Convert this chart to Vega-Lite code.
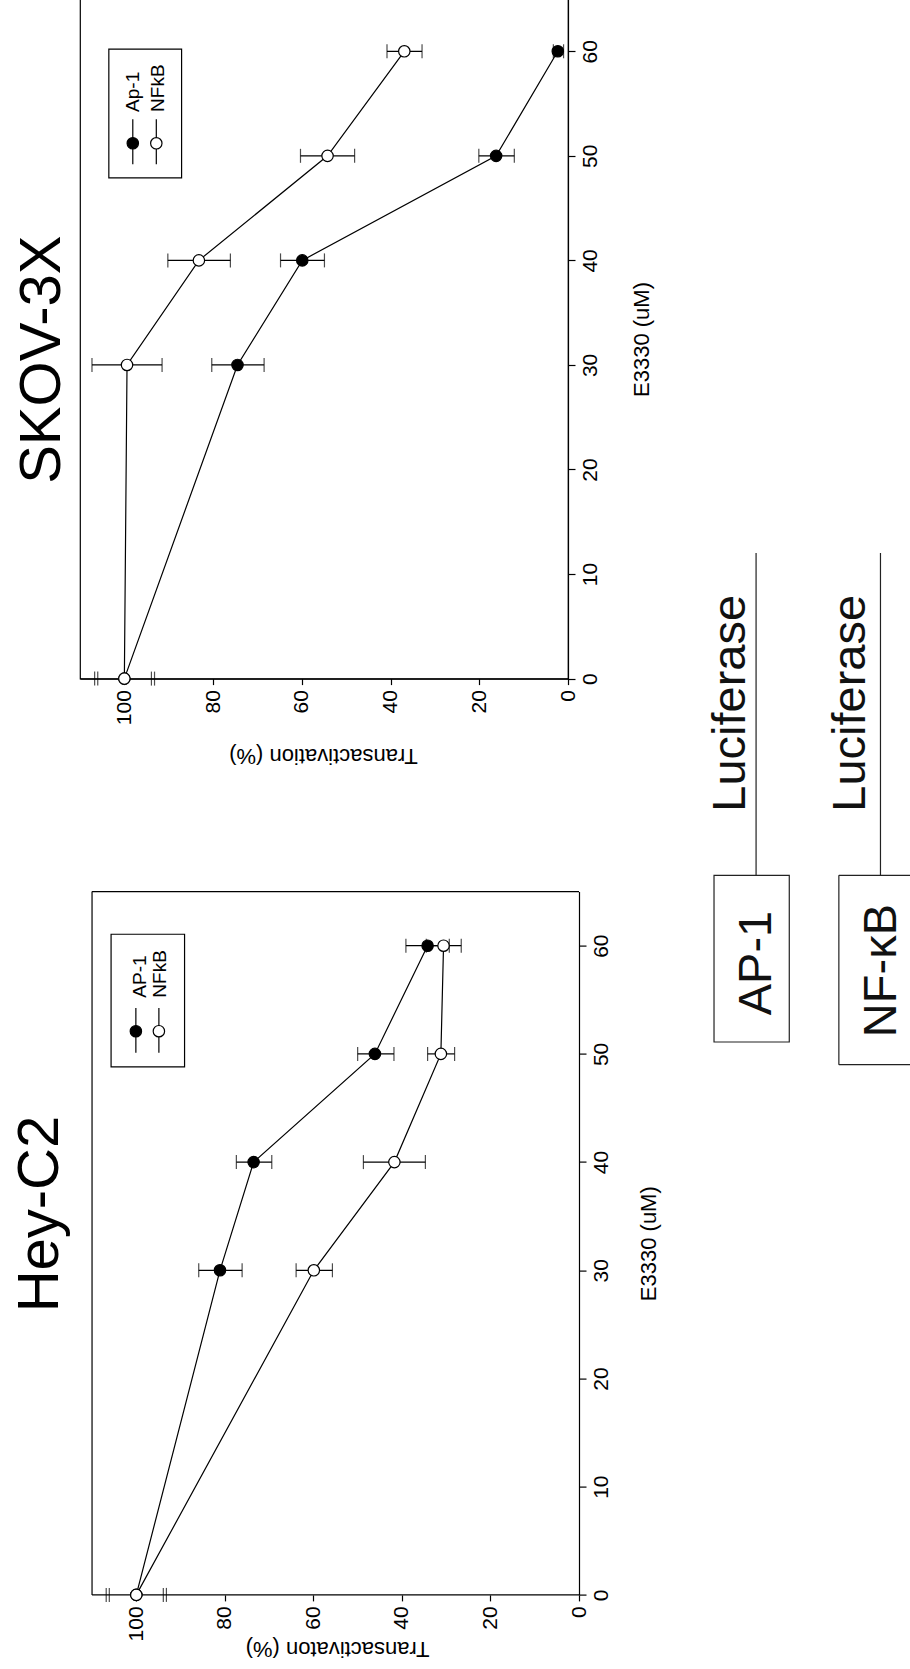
{
  "$schema": "https://vega.github.io/schema/vega-lite/v6.json",
  "background": "white",
  "padding": {"left": 12, "top": -2, "right": 0, "bottom": 10},
  "bounds": "flush",
  "spacing": 212.6,
  "config": {"view": {"stroke": null}, "font": "Liberation Sans", "axis": {"grid": false}},
  "datasets": {
    "skov": [
      {"series": "AP-1", "conc": 0, "val": 100},
      {"series": "AP-1", "conc": 30, "val": 74.5, "lo": 68.5, "hi": 80.3},
      {"series": "AP-1", "conc": 40, "val": 59.9, "lo": 54.9, "hi": 64.8},
      {"series": "AP-1", "conc": 50, "val": 16.2, "lo": 12.1, "hi": 20.1},
      {"series": "AP-1", "conc": 60, "val": 2.3, "lo": 1.0, "hi": 3.3},
      {"series": "NFkB", "conc": 0, "val": 100},
      {"series": "NFkB", "conc": 30, "val": 99.4, "lo": 91.5, "hi": 107.3},
      {"series": "NFkB", "conc": 40, "val": 83.2, "lo": 76.1, "hi": 90.2},
      {"series": "NFkB", "conc": 50, "val": 54.2, "lo": 48.1, "hi": 60.3},
      {"series": "NFkB", "conc": 60, "val": 36.9, "lo": 32.9, "hi": 40.8}
    ],
    "hey": [
      {"series": "AP-1", "conc": 0, "val": 100},
      {"series": "AP-1", "conc": 30, "val": 81.1, "lo": 76.1, "hi": 85.9},
      {"series": "AP-1", "conc": 40, "val": 73.5, "lo": 69.4, "hi": 77.4},
      {"series": "AP-1", "conc": 50, "val": 46.1, "lo": 41.8, "hi": 50.0},
      {"series": "AP-1", "conc": 60, "val": 34.2, "lo": 29.3, "hi": 39.1},
      {"series": "NFkB", "conc": 0, "val": 100},
      {"series": "NFkB", "conc": 30, "val": 59.9, "lo": 55.7, "hi": 63.9},
      {"series": "NFkB", "conc": 40, "val": 41.7, "lo": 34.7, "hi": 48.7},
      {"series": "NFkB", "conc": 50, "val": 31.2, "lo": 28.1, "hi": 34.2},
      {"series": "NFkB", "conc": 60, "val": 30.6, "lo": 26.6, "hi": 34.5}
    ],
    "skovTitle": [{"label": "SKOV-3X", "tx": 114.5, "ty": 30.5}],
    "heyTitle": [{"label": "Hey-C2", "tx": 117.6, "ty": 35.2}],
    "skovLegendBox": [{"x": 103.5, "x2": 87.1, "y": 60.2, "y2": 47.9}],
    "skovLegend": [
      {"series": "AP-1", "label": "Ap-1", "lx": 98.1, "tx": 96.8, "cy": 51.2, "ly1": 53.5, "ly2": 49.2, "ty": 54.2},
      {"series": "NFkB", "label": "NFkB", "lx": 92.8, "tx": 91.1, "cy": 51.2, "ly1": 53.5, "ly2": 49.2, "ty": 54.2}
    ],
    "heyLegendBox": [{"x": 105.7, "x2": 89.1, "y": 61.06, "y2": 48.8}],
    "heyLegend": [
      {"series": "AP-1", "label": "AP-1", "lx": 100.1, "tx": 97.9, "cy": 52.1, "ly1": 54.25, "ly2": 50.1, "ty": 55.2},
      {"series": "NFkB", "label": "NFkB", "lx": 94.9, "tx": 93.2, "cy": 52.1, "ly1": 54.25, "ly2": 50.1, "ty": 55.2}
    ],
    "skovBreaks": [{"bx": 106.0, "by": 0}, {"bx": 106.7, "by": 0}, {"bx": 93.2, "by": 0}, {"bx": 93.9, "by": 0}],
    "heyBreaks": [{"bx": 106.1, "by": 0}, {"bx": 106.8, "by": 0}, {"bx": 93.2, "by": 0}, {"bx": 93.9, "by": 0}],
    "heyFrame": [
      {"x1": 110, "x2": 110, "y1": 0, "y2": 65},
      {"x1": 0, "x2": 110, "y1": 65, "y2": 65},
      {"x1": 0, "x2": 110, "y1": 0, "y2": 0}
    ],
    "diagramLines": [
      {"x1": -40.0, "x2": -40.0, "y1": 96.3, "y2": 66.5},
      {"x1": -68.1, "x2": -68.1, "y1": 96.3, "y2": 66.5},
      {"x1": -58.7, "x2": -74.8, "y1": 66.5, "y2": 66.5},
      {"x1": -58.7, "x2": -74.8, "y1": 49.0, "y2": 49.0},
      {"x1": -58.7, "x2": -58.7, "y1": 66.5, "y2": 49.0}
    ],
    "diagramBox": [{"x1": -30.5, "x2": -47.5, "y1": 66.5, "y2": 51.1}],
    "diagramText": [
      {"label": "Luciferase", "tx": -37.4, "ty": 82.4},
      {"label": "Luciferase", "tx": -64.5, "ty": 82.4},
      {"label": "AP-1", "tx": -43.3, "ty": 58.4},
      {"label": "NF-κB", "tx": -71.5, "ty": 57.7}
    ]
  },
  "vconcat": [
    {
      "width": 488,
      "height": 679.6,
      "view": {"stroke": "black", "strokeWidth": 1.2},
      "layer": [
        {
          "data": {"name": "skov"},
          "mark": {"type": "line", "color": "black", "strokeWidth": 1.2},
          "encoding": {
            "x": {"field": "val", "type": "quantitative", "scale": {"domain": [0, 110], "reverse": true, "nice": false, "zero": false},
              "axis": {"title": "Transactivation (%)", "values": [0, 20, 40, 60, 80, 100], "grid": false, "domain": true, "domainColor": "black", "domainWidth": 1.2, "tickColor": "black", "tickWidth": 1.2, "tickSize": 6, "labelAngle": 270, "labelAlign": "right", "labelBaseline": "middle", "labelPadding": 5, "labelFont": "Liberation Sans Narrow, Arial Narrow, Liberation Sans", "labelFontSize": 21, "labelColor": "black", "labelOverlap": false, "labelFlush": false, "titleFont": "Liberation Sans", "titleFontSize": 22, "titleFontWeight": "normal", "titleColor": "black", "titleAngle": 180, "titleAlign": "center", "titleBaseline": "alphabetic", "titleX": 243, "titleY": 70}},
            "y": {"field": "conc", "type": "quantitative", "scale": {"domain": [0, 65], "nice": false, "zero": false},
              "axis": {"orient": "right", "title": "E3330 (uM)", "values": [0, 10, 20, 30, 40, 50, 60], "grid": false, "domain": true, "domainColor": "black", "domainWidth": 1.2, "tickColor": "black", "tickWidth": 1.2, "tickSize": 7, "labelAngle": 270, "labelAlign": "center", "labelBaseline": "top", "labelPadding": 4, "labelFont": "Liberation Sans Narrow, Arial Narrow, Liberation Sans", "labelFontSize": 21, "labelColor": "black", "labelOverlap": false, "labelFlush": false, "titleFont": "Liberation Sans", "titleFontSize": 22, "titleFontWeight": "normal", "titleColor": "black", "titleAngle": 270, "titleAlign": "center", "titleBaseline": "alphabetic", "titleX": 80, "titleY": 340}},
            "detail": {"field": "series"},
            "order": {"field": "conc"}
          }
        },
        {
          "data": {"name": "skov"},
          "transform": [{"filter": "isValid(datum.lo)"}],
          "mark": {"type": "rule", "color": "black", "strokeWidth": 1.2},
          "encoding": {
            "x": {"field": "lo", "type": "quantitative", "scale": {"domain": [0, 110], "reverse": true, "nice": false, "zero": false}},
            "x2": {"field": "hi"},
            "y": {"field": "conc", "type": "quantitative", "scale": {"domain": [0, 65], "nice": false, "zero": false}}
          }
        },
        {
          "data": {"name": "skov"},
          "transform": [{"filter": "isValid(datum.lo)"}],
          "mark": {"type": "tick", "orient": "vertical", "color": "black", "size": 14, "thickness": 1.2},
          "encoding": {
            "x": {"field": "lo", "type": "quantitative", "scale": {"domain": [0, 110], "reverse": true, "nice": false, "zero": false}},
            "y": {"field": "conc", "type": "quantitative", "scale": {"domain": [0, 65], "nice": false, "zero": false}}
          }
        },
        {
          "data": {"name": "skov"},
          "transform": [{"filter": "isValid(datum.hi)"}],
          "mark": {"type": "tick", "orient": "vertical", "color": "black", "size": 14, "thickness": 1.2},
          "encoding": {
            "x": {"field": "hi", "type": "quantitative", "scale": {"domain": [0, 110], "reverse": true, "nice": false, "zero": false}},
            "y": {"field": "conc", "type": "quantitative", "scale": {"domain": [0, 65], "nice": false, "zero": false}}
          }
        },
        {
          "data": {"name": "skov"},
          "mark": {"type": "point", "shape": "circle", "filled": true, "stroke": "black", "strokeWidth": 1.2, "size": 130, "opacity": 1},
          "encoding": {
            "x": {"field": "val", "type": "quantitative", "scale": {"domain": [0, 110], "reverse": true, "nice": false, "zero": false}},
            "y": {"field": "conc", "type": "quantitative", "scale": {"domain": [0, 65], "nice": false, "zero": false}},
            "fill": {"field": "series", "type": "nominal", "scale": {"domain": ["AP-1", "NFkB"], "range": ["black", "white"]}, "legend": null}
          }
        },
        {
          "data": {"name": "skovLegendBox"},
          "mark": {"type": "rect", "fill": "white", "stroke": "black", "strokeWidth": 1.2},
          "encoding": {
            "x": {"field": "x", "type": "quantitative", "scale": {"domain": [0, 110], "reverse": true, "nice": false, "zero": false}},
            "x2": {"field": "x2"},
            "y": {"field": "y", "type": "quantitative", "scale": {"domain": [0, 65], "nice": false, "zero": false}},
            "y2": {"field": "y2"}
          }
        },
        {
          "data": {"name": "skovLegend"},
          "mark": {"type": "rule", "color": "black", "strokeWidth": 1.2},
          "encoding": {
            "x": {"field": "lx", "type": "quantitative", "scale": {"domain": [0, 110], "reverse": true, "nice": false, "zero": false}},
            "y": {"field": "ly1", "type": "quantitative", "scale": {"domain": [0, 65], "nice": false, "zero": false}},
            "y2": {"field": "ly2"}
          }
        },
        {
          "data": {"name": "skovLegend"},
          "mark": {"type": "point", "shape": "circle", "filled": true, "stroke": "black", "strokeWidth": 1.2, "size": 130, "opacity": 1},
          "encoding": {
            "x": {"field": "lx", "type": "quantitative", "scale": {"domain": [0, 110], "reverse": true, "nice": false, "zero": false}},
            "y": {"field": "cy", "type": "quantitative", "scale": {"domain": [0, 65], "nice": false, "zero": false}},
            "fill": {"field": "series", "type": "nominal", "scale": {"domain": ["AP-1", "NFkB"], "range": ["black", "white"]}, "legend": null}
          }
        },
        {
          "data": {"name": "skovLegend"},
          "mark": {"type": "text", "angle": 270, "align": "left", "baseline": "alphabetic", "fontSize": 19, "font": "Liberation Sans", "color": "black"},
          "encoding": {
            "x": {"field": "tx", "type": "quantitative", "scale": {"domain": [0, 110], "reverse": true, "nice": false, "zero": false}},
            "y": {"field": "ty", "type": "quantitative", "scale": {"domain": [0, 65], "nice": false, "zero": false}},
            "text": {"field": "label"}
          }
        },
        {
          "data": {"name": "skovBreaks"},
          "mark": {"type": "tick", "orient": "vertical", "color": "black", "size": 14, "thickness": 1.2},
          "encoding": {
            "x": {"field": "bx", "type": "quantitative", "scale": {"domain": [0, 110], "reverse": true, "nice": false, "zero": false}},
            "y": {"field": "by", "type": "quantitative", "scale": {"domain": [0, 65], "nice": false, "zero": false}}
          }
        },
        {
          "data": {"name": "skovTitle"},
          "mark": {"type": "text", "angle": 270, "align": "center", "baseline": "alphabetic", "fontSize": 58, "font": "Liberation Sans", "color": "black"},
          "encoding": {
            "x": {"field": "tx", "type": "quantitative", "scale": {"domain": [0, 110], "reverse": true, "nice": false, "zero": false}},
            "y": {"field": "ty", "type": "quantitative", "scale": {"domain": [0, 65], "nice": false, "zero": false}},
            "text": {"field": "label"}
          }
        }
      ]
    },
    {
      "width": 499,
      "height": 703.3,
      "layer": [
        {
          "data": {"name": "hey"},
          "mark": {"type": "line", "color": "black", "strokeWidth": 1.2},
          "encoding": {
            "x": {"field": "val", "type": "quantitative", "scale": {"domain": [0, 112.72], "reverse": true, "nice": false, "zero": false},
              "axis": {"title": "Transactivaton (%)", "values": [0, 20, 40, 60, 80, 100], "grid": false, "domain": false, "tickColor": "black", "tickWidth": 1.2, "tickSize": 6, "labelAngle": 270, "labelAlign": "right", "labelBaseline": "middle", "labelPadding": 5, "labelFont": "Liberation Sans Narrow, Arial Narrow, Liberation Sans", "labelFontSize": 21, "labelColor": "black", "labelOverlap": false, "labelFlush": false, "titleFont": "Liberation Sans", "titleFontSize": 22, "titleFontWeight": "normal", "titleColor": "black", "titleAngle": 180, "titleAlign": "center", "titleBaseline": "alphabetic", "titleX": 257, "titleY": 47}},
            "y": {"field": "conc", "type": "quantitative", "scale": {"domain": [0, 65], "nice": false, "zero": false},
              "axis": {"orient": "right", "title": "E3330 (uM)", "values": [0, 10, 20, 30, 40, 50, 60], "grid": false, "domain": true, "domainColor": "black", "domainWidth": 1.2, "tickColor": "black", "tickWidth": 1.2, "tickSize": 7, "labelAngle": 270, "labelAlign": "center", "labelBaseline": "top", "labelPadding": 4, "labelFont": "Liberation Sans Narrow, Arial Narrow, Liberation Sans", "labelFontSize": 21, "labelColor": "black", "labelOverlap": false, "labelFlush": false, "titleFont": "Liberation Sans", "titleFontSize": 22, "titleFontWeight": "normal", "titleColor": "black", "titleAngle": 270, "titleAlign": "center", "titleBaseline": "alphabetic", "titleX": 76, "titleY": 351.6}},
            "detail": {"field": "series"},
            "order": {"field": "conc"}
          }
        },
        {
          "data": {"name": "heyFrame"},
          "mark": {"type": "rule", "color": "black", "strokeWidth": 1.2},
          "encoding": {
            "x": {"field": "x1", "type": "quantitative", "scale": {"domain": [0, 112.72], "reverse": true, "nice": false, "zero": false}},
            "x2": {"field": "x2"},
            "y": {"field": "y1", "type": "quantitative", "scale": {"domain": [0, 65], "nice": false, "zero": false}},
            "y2": {"field": "y2"}
          }
        },
        {
          "data": {"name": "hey"},
          "transform": [{"filter": "isValid(datum.lo)"}],
          "mark": {"type": "rule", "color": "black", "strokeWidth": 1.2},
          "encoding": {
            "x": {"field": "lo", "type": "quantitative", "scale": {"domain": [0, 112.72], "reverse": true, "nice": false, "zero": false}},
            "x2": {"field": "hi"},
            "y": {"field": "conc", "type": "quantitative", "scale": {"domain": [0, 65], "nice": false, "zero": false}}
          }
        },
        {
          "data": {"name": "hey"},
          "transform": [{"filter": "isValid(datum.lo)"}],
          "mark": {"type": "tick", "orient": "vertical", "color": "black", "size": 14, "thickness": 1.2},
          "encoding": {
            "x": {"field": "lo", "type": "quantitative", "scale": {"domain": [0, 112.72], "reverse": true, "nice": false, "zero": false}},
            "y": {"field": "conc", "type": "quantitative", "scale": {"domain": [0, 65], "nice": false, "zero": false}}
          }
        },
        {
          "data": {"name": "hey"},
          "transform": [{"filter": "isValid(datum.hi)"}],
          "mark": {"type": "tick", "orient": "vertical", "color": "black", "size": 14, "thickness": 1.2},
          "encoding": {
            "x": {"field": "hi", "type": "quantitative", "scale": {"domain": [0, 112.72], "reverse": true, "nice": false, "zero": false}},
            "y": {"field": "conc", "type": "quantitative", "scale": {"domain": [0, 65], "nice": false, "zero": false}}
          }
        },
        {
          "data": {"name": "hey"},
          "mark": {"type": "point", "shape": "circle", "filled": true, "stroke": "black", "strokeWidth": 1.2, "size": 130, "opacity": 1},
          "encoding": {
            "x": {"field": "val", "type": "quantitative", "scale": {"domain": [0, 112.72], "reverse": true, "nice": false, "zero": false}},
            "y": {"field": "conc", "type": "quantitative", "scale": {"domain": [0, 65], "nice": false, "zero": false}},
            "fill": {"field": "series", "type": "nominal", "scale": {"domain": ["AP-1", "NFkB"], "range": ["black", "white"]}, "legend": null}
          }
        },
        {
          "data": {"name": "heyLegendBox"},
          "mark": {"type": "rect", "fill": "white", "stroke": "black", "strokeWidth": 1.2},
          "encoding": {
            "x": {"field": "x", "type": "quantitative", "scale": {"domain": [0, 112.72], "reverse": true, "nice": false, "zero": false}},
            "x2": {"field": "x2"},
            "y": {"field": "y", "type": "quantitative", "scale": {"domain": [0, 65], "nice": false, "zero": false}},
            "y2": {"field": "y2"}
          }
        },
        {
          "data": {"name": "heyLegend"},
          "mark": {"type": "rule", "color": "black", "strokeWidth": 1.2},
          "encoding": {
            "x": {"field": "lx", "type": "quantitative", "scale": {"domain": [0, 112.72], "reverse": true, "nice": false, "zero": false}},
            "y": {"field": "ly1", "type": "quantitative", "scale": {"domain": [0, 65], "nice": false, "zero": false}},
            "y2": {"field": "ly2"}
          }
        },
        {
          "data": {"name": "heyLegend"},
          "mark": {"type": "point", "shape": "circle", "filled": true, "stroke": "black", "strokeWidth": 1.2, "size": 130, "opacity": 1},
          "encoding": {
            "x": {"field": "lx", "type": "quantitative", "scale": {"domain": [0, 112.72], "reverse": true, "nice": false, "zero": false}},
            "y": {"field": "cy", "type": "quantitative", "scale": {"domain": [0, 65], "nice": false, "zero": false}},
            "fill": {"field": "series", "type": "nominal", "scale": {"domain": ["AP-1", "NFkB"], "range": ["black", "white"]}, "legend": null}
          }
        },
        {
          "data": {"name": "heyLegend"},
          "mark": {"type": "text", "angle": 270, "align": "left", "baseline": "alphabetic", "fontSize": 19, "font": "Liberation Sans", "color": "black"},
          "encoding": {
            "x": {"field": "tx", "type": "quantitative", "scale": {"domain": [0, 112.72], "reverse": true, "nice": false, "zero": false}},
            "y": {"field": "ty", "type": "quantitative", "scale": {"domain": [0, 65], "nice": false, "zero": false}},
            "text": {"field": "label"}
          }
        },
        {
          "data": {"name": "heyBreaks"},
          "mark": {"type": "tick", "orient": "vertical", "color": "black", "size": 14, "thickness": 1.2},
          "encoding": {
            "x": {"field": "bx", "type": "quantitative", "scale": {"domain": [0, 112.72], "reverse": true, "nice": false, "zero": false}},
            "y": {"field": "by", "type": "quantitative", "scale": {"domain": [0, 65], "nice": false, "zero": false}}
          }
        },
        {
          "data": {"name": "heyTitle"},
          "mark": {"type": "text", "angle": 270, "align": "center", "baseline": "alphabetic", "fontSize": 58, "font": "Liberation Sans", "color": "black"},
          "encoding": {
            "x": {"field": "tx", "type": "quantitative", "scale": {"domain": [0, 112.72], "reverse": true, "nice": false, "zero": false}},
            "y": {"field": "ty", "type": "quantitative", "scale": {"domain": [0, 65], "nice": false, "zero": false}},
            "text": {"field": "label"}
          }
        },
        {
          "data": {"name": "diagramLines"},
          "mark": {"type": "rule", "color": "#222222", "strokeWidth": 1.2},
          "encoding": {
            "x": {"field": "x1", "type": "quantitative", "scale": {"domain": [0, 112.72], "reverse": true, "nice": false, "zero": false}},
            "x2": {"field": "x2"},
            "y": {"field": "y1", "type": "quantitative", "scale": {"domain": [0, 65], "nice": false, "zero": false}},
            "y2": {"field": "y2"}
          }
        },
        {
          "data": {"name": "diagramBox"},
          "mark": {"type": "rect", "fill": "white", "stroke": "#222222", "strokeWidth": 1.2},
          "encoding": {
            "x": {"field": "x1", "type": "quantitative", "scale": {"domain": [0, 112.72], "reverse": true, "nice": false, "zero": false}},
            "x2": {"field": "x2"},
            "y": {"field": "y1", "type": "quantitative", "scale": {"domain": [0, 65], "nice": false, "zero": false}},
            "y2": {"field": "y2"}
          }
        },
        {
          "data": {"name": "diagramText"},
          "mark": {"type": "text", "angle": 270, "align": "center", "baseline": "alphabetic", "fontSize": 47, "font": "Liberation Sans", "color": "#111111"},
          "encoding": {
            "x": {"field": "tx", "type": "quantitative", "scale": {"domain": [0, 112.72], "reverse": true, "nice": false, "zero": false}},
            "y": {"field": "ty", "type": "quantitative", "scale": {"domain": [0, 65], "nice": false, "zero": false}},
            "text": {"field": "label"}
          }
        }
      ]
    }
  ]
}
